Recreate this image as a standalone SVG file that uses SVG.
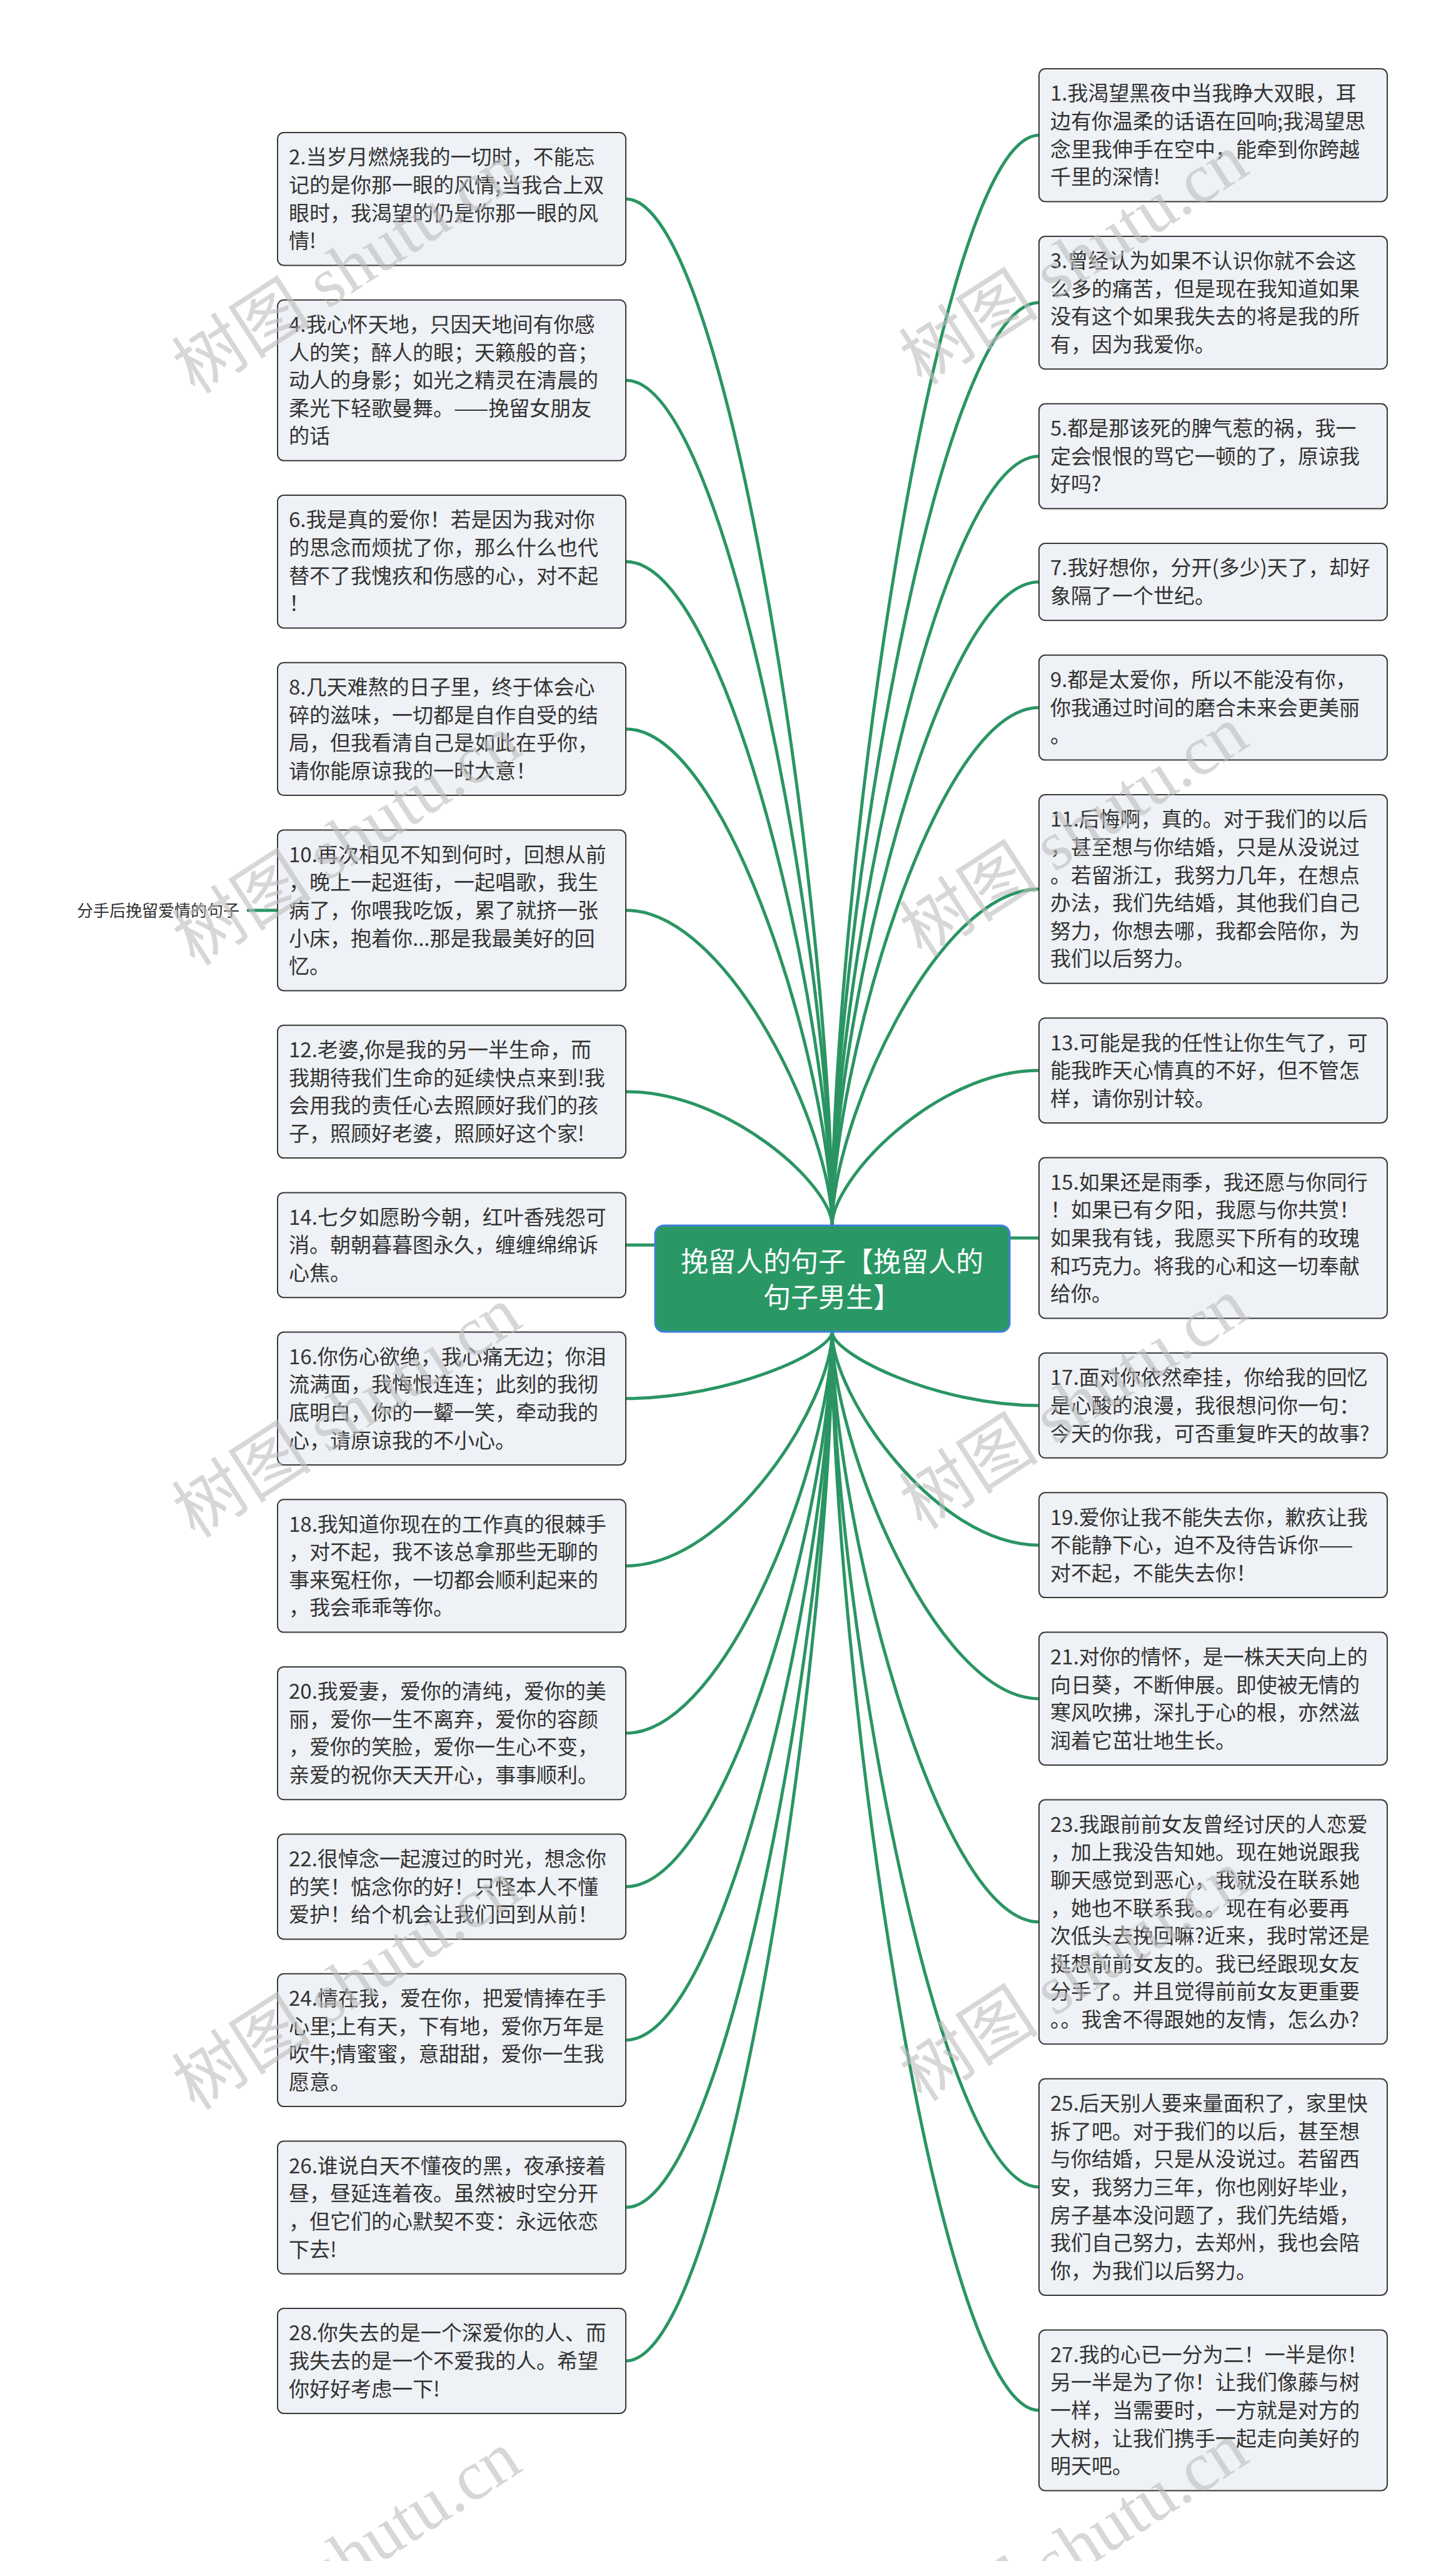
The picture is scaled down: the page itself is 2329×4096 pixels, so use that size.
<svg xmlns="http://www.w3.org/2000/svg" width="2329" height="4096" viewBox="0 0 2329 4096">
<style>
.box{fill:#eef1f5;stroke:#383838;stroke-width:2}
.t{font-family:"Noto Sans CJK SC","Noto Sans",sans-serif;font-size:33px;fill:#333333}
.c{fill:none;stroke:#2a9563;stroke-width:5;stroke-linecap:round}
.root{fill:#2a9865;stroke:#3d7fd9;stroke-width:3}
.rt{font-family:"Noto Sans CJK SC","Noto Sans",sans-serif;font-size:44px;fill:#ffffff;text-anchor:middle}
.lbl{font-family:"Noto Sans CJK SC","Noto Sans",sans-serif;font-size:26px;fill:#333333}
.wm{font-family:"Liberation Serif","Noto Sans CJK SC",serif;font-size:112px;fill:#bdbdbd;opacity:0.6}
</style>
<rect width="2329" height="4096" fill="#ffffff"/>
<g id="connectors">
<path class="c" d="M1001 318.2 C1166 318.2 1331 1467.5 1331 1960"/>
<path class="c" d="M1001 608.2 C1166 608.2 1331 1554.5 1331 1960"/>
<path class="c" d="M1001 898.2 C1166 898.2 1331 1641.5 1331 1960"/>
<path class="c" d="M1001 1165.9 C1166 1165.9 1331 1721.8 1331 1960"/>
<path class="c" d="M1001 1455.9 C1166 1455.9 1331 1808.8 1331 1960"/>
<path class="c" d="M1001 1745.9 C1166 1745.9 1331 1895.8 1331 1960"/>
<path class="c" d="M1001 1991.3 H1048"/>
<path class="c" d="M1001 2236.7 C1166 2236.7 1331 2162 1331 2130"/>
<path class="c" d="M1001 2504.4 C1166 2504.4 1331 2242.3 1331 2130"/>
<path class="c" d="M1001 2772.1 C1166 2772.1 1331 2322.6 1331 2130"/>
<path class="c" d="M1001 3017.5 C1166 3017.5 1331 2396.3 1331 2130"/>
<path class="c" d="M1001 3262.9 C1166 3262.9 1331 2469.9 1331 2130"/>
<path class="c" d="M1001 3530.6 C1166 3530.6 1331 2550.2 1331 2130"/>
<path class="c" d="M1001 3776 C1166 3776 1331 2623.8 1331 2130"/>
<path class="c" d="M1662 216.2 C1496.5 216.2 1331 1436.9 1331 1960"/>
<path class="c" d="M1662 484.1 C1496.5 484.1 1331 1517.2 1331 1960"/>
<path class="c" d="M1662 729.7 C1496.5 729.7 1331 1590.9 1331 1960"/>
<path class="c" d="M1662 930.7 C1496.5 930.7 1331 1651.2 1331 1960"/>
<path class="c" d="M1662 1131.7 C1496.5 1131.7 1331 1711.5 1331 1960"/>
<path class="c" d="M1662 1421.9 C1496.5 1421.9 1331 1798.6 1331 1960"/>
<path class="c" d="M1662 1712.1 C1496.5 1712.1 1331 1885.6 1331 1960"/>
<path class="c" d="M1615 1980 H1662"/>
<path class="c" d="M1662 2247.9 C1496.5 2247.9 1331 2165.4 1331 2130"/>
<path class="c" d="M1662 2471.2 C1496.5 2471.2 1331 2232.4 1331 2130"/>
<path class="c" d="M1662 2716.8 C1496.5 2716.8 1331 2306 1331 2130"/>
<path class="c" d="M1662 3073.9 C1496.5 3073.9 1331 2413.2 1331 2130"/>
<path class="c" d="M1662 3497.9 C1496.5 3497.9 1331 2540.4 1331 2130"/>
<path class="c" d="M1662 3855 C1496.5 3855 1331 2647.5 1331 2130"/>
<path class="c" d="M397 1456 H444"/>
</g>
<g id="root">
<rect class="root" x="1048" y="1960" width="567" height="170" rx="14"/>
<text class="rt" x="1331" y="2034">挽留人的句子【挽留人的</text>
<text class="rt" x="1331" y="2091">句子男生】</text>
</g>
<g id="label">
<text class="lbl" x="123" y="1466">分手后挽留爱情的句子</text>
</g>
<g id="n2"><rect class="box" x="444" y="212" width="557" height="212.4" rx="10"/>
<text class="t" x="462" y="263.3"><tspan x="462">2.当岁月燃烧我的一切时，不能忘</tspan><tspan x="462" dy="44.6">记的是你那一眼的风情;当我合上双</tspan><tspan x="462" dy="44.6">眼时，我渴望的仍是你那一眼的风</tspan><tspan x="462" dy="44.6">情!</tspan></text></g>
<g id="n4"><rect class="box" x="444" y="479.7" width="557" height="257" rx="10"/>
<text class="t" x="462" y="531"><tspan x="462">4.我心怀天地，只因天地间有你感</tspan><tspan x="462" dy="44.6">人的笑；醉人的眼；天籁般的音；</tspan><tspan x="462" dy="44.6">动人的身影；如光之精灵在清晨的</tspan><tspan x="462" dy="44.6">柔光下轻歌曼舞。——挽留女朋友</tspan><tspan x="462" dy="44.6">的话</tspan></text></g>
<g id="n6"><rect class="box" x="444" y="792" width="557" height="212.4" rx="10"/>
<text class="t" x="462" y="843.3"><tspan x="462">6.我是真的爱你！若是因为我对你</tspan><tspan x="462" dy="44.6">的思念而烦扰了你，那么什么也代</tspan><tspan x="462" dy="44.6">替不了我愧疚和伤感的心，对不起</tspan><tspan x="462" dy="44.6">！</tspan></text></g>
<g id="n8"><rect class="box" x="444" y="1059.7" width="557" height="212.4" rx="10"/>
<text class="t" x="462" y="1111"><tspan x="462">8.几天难熬的日子里，终于体会心</tspan><tspan x="462" dy="44.6">碎的滋味，一切都是自作自受的结</tspan><tspan x="462" dy="44.6">局，但我看清自己是如此在乎你，</tspan><tspan x="462" dy="44.6">请你能原谅我的一时大意！</tspan></text></g>
<g id="n10"><rect class="box" x="444" y="1327.4" width="557" height="257" rx="10"/>
<text class="t" x="462" y="1378.7"><tspan x="462">10.再次相见不知到何时，回想从前</tspan><tspan x="462" dy="44.6">，晚上一起逛街，一起唱歌，我生</tspan><tspan x="462" dy="44.6">病了，你喂我吃饭，累了就挤一张</tspan><tspan x="462" dy="44.6">小床，抱着你...那是我最美好的回</tspan><tspan x="462" dy="44.6">忆。</tspan></text></g>
<g id="n12"><rect class="box" x="444" y="1639.7" width="557" height="212.4" rx="10"/>
<text class="t" x="462" y="1691"><tspan x="462">12.老婆,你是我的另一半生命，而</tspan><tspan x="462" dy="44.6">我期待我们生命的延续快点来到!我</tspan><tspan x="462" dy="44.6">会用我的责任心去照顾好我们的孩</tspan><tspan x="462" dy="44.6">子，照顾好老婆，照顾好这个家!</tspan></text></g>
<g id="n14"><rect class="box" x="444" y="1907.4" width="557" height="167.8" rx="10"/>
<text class="t" x="462" y="1958.7"><tspan x="462">14.七夕如愿盼今朝，红叶香残怨可</tspan><tspan x="462" dy="44.6">消。朝朝暮暮图永久，缠缠绵绵诉</tspan><tspan x="462" dy="44.6">心焦。</tspan></text></g>
<g id="n16"><rect class="box" x="444" y="2130.5" width="557" height="212.4" rx="10"/>
<text class="t" x="462" y="2181.8"><tspan x="462">16.你伤心欲绝，我心痛无边；你泪</tspan><tspan x="462" dy="44.6">流满面，我悔恨连连；此刻的我彻</tspan><tspan x="462" dy="44.6">底明白，你的一颦一笑，牵动我的</tspan><tspan x="462" dy="44.6">心，请原谅我的不小心。</tspan></text></g>
<g id="n18"><rect class="box" x="444" y="2398.2" width="557" height="212.4" rx="10"/>
<text class="t" x="462" y="2449.5"><tspan x="462">18.我知道你现在的工作真的很棘手</tspan><tspan x="462" dy="44.6">，对不起，我不该总拿那些无聊的</tspan><tspan x="462" dy="44.6">事来冤枉你，一切都会顺利起来的</tspan><tspan x="462" dy="44.6">，我会乖乖等你。</tspan></text></g>
<g id="n20"><rect class="box" x="444" y="2665.9" width="557" height="212.4" rx="10"/>
<text class="t" x="462" y="2717.2"><tspan x="462">20.我爱妻，爱你的清纯，爱你的美</tspan><tspan x="462" dy="44.6">丽，爱你一生不离弃，爱你的容颜</tspan><tspan x="462" dy="44.6">，爱你的笑脸，爱你一生心不变，</tspan><tspan x="462" dy="44.6">亲爱的祝你天天开心，事事顺利。</tspan></text></g>
<g id="n22"><rect class="box" x="444" y="2933.6" width="557" height="167.8" rx="10"/>
<text class="t" x="462" y="2984.9"><tspan x="462">22.很悼念一起渡过的时光，想念你</tspan><tspan x="462" dy="44.6">的笑！惦念你的好！只怪本人不懂</tspan><tspan x="462" dy="44.6">爱护！给个机会让我们回到从前！</tspan></text></g>
<g id="n24"><rect class="box" x="444" y="3156.7" width="557" height="212.4" rx="10"/>
<text class="t" x="462" y="3208"><tspan x="462">24.情在我，爱在你，把爱情捧在手</tspan><tspan x="462" dy="44.6">心里;上有天，下有地，爱你万年是</tspan><tspan x="462" dy="44.6">吹牛;情蜜蜜，意甜甜，爱你一生我</tspan><tspan x="462" dy="44.6">愿意。</tspan></text></g>
<g id="n26"><rect class="box" x="444" y="3424.4" width="557" height="212.4" rx="10"/>
<text class="t" x="462" y="3475.7"><tspan x="462">26.谁说白天不懂夜的黑，夜承接着</tspan><tspan x="462" dy="44.6">昼，昼延连着夜。虽然被时空分开</tspan><tspan x="462" dy="44.6">，但它们的心默契不变：永远依恋</tspan><tspan x="462" dy="44.6">下去!</tspan></text></g>
<g id="n28"><rect class="box" x="444" y="3692.1" width="557" height="167.8" rx="10"/>
<text class="t" x="462" y="3743.4"><tspan x="462">28.你失去的是一个深爱你的人、而</tspan><tspan x="462" dy="44.6">我失去的是一个不爱我的人。希望</tspan><tspan x="462" dy="44.6">你好好考虑一下!</tspan></text></g>
<g id="n1"><rect class="box" x="1662" y="110" width="557" height="212.4" rx="10"/>
<text class="t" x="1680" y="161.3"><tspan x="1680">1.我渴望黑夜中当我睁大双眼，耳</tspan><tspan x="1680" dy="44.6">边有你温柔的话语在回响;我渴望思</tspan><tspan x="1680" dy="44.6">念里我伸手在空中，能牵到你跨越</tspan><tspan x="1680" dy="44.6">千里的深情!</tspan></text></g>
<g id="n3"><rect class="box" x="1662" y="377.9" width="557" height="212.4" rx="10"/>
<text class="t" x="1680" y="429.2"><tspan x="1680">3.曾经认为如果不认识你就不会这</tspan><tspan x="1680" dy="44.6">么多的痛苦，但是现在我知道如果</tspan><tspan x="1680" dy="44.6">没有这个如果我失去的将是我的所</tspan><tspan x="1680" dy="44.6">有，因为我爱你。</tspan></text></g>
<g id="n5"><rect class="box" x="1662" y="645.8" width="557" height="167.8" rx="10"/>
<text class="t" x="1680" y="697.1"><tspan x="1680">5.都是那该死的脾气惹的祸，我一</tspan><tspan x="1680" dy="44.6">定会恨恨的骂它一顿的了，原谅我</tspan><tspan x="1680" dy="44.6">好吗?</tspan></text></g>
<g id="n7"><rect class="box" x="1662" y="869.1" width="557" height="123.2" rx="10"/>
<text class="t" x="1680" y="920.4"><tspan x="1680">7.我好想你，分开(多少)天了，却好</tspan><tspan x="1680" dy="44.6">象隔了一个世纪。</tspan></text></g>
<g id="n9"><rect class="box" x="1662" y="1047.8" width="557" height="167.8" rx="10"/>
<text class="t" x="1680" y="1099.1"><tspan x="1680">9.都是太爱你，所以不能没有你，</tspan><tspan x="1680" dy="44.6">你我通过时间的磨合未来会更美丽</tspan><tspan x="1680" dy="44.6">。</tspan></text></g>
<g id="n11"><rect class="box" x="1662" y="1271.1" width="557" height="301.6" rx="10"/>
<text class="t" x="1680" y="1322.4"><tspan x="1680">11.后悔啊，真的。对于我们的以后</tspan><tspan x="1680" dy="44.6">，甚至想与你结婚，只是从没说过</tspan><tspan x="1680" dy="44.6">。若留浙江，我努力几年，在想点</tspan><tspan x="1680" dy="44.6">办法，我们先结婚，其他我们自己</tspan><tspan x="1680" dy="44.6">努力，你想去哪，我都会陪你，为</tspan><tspan x="1680" dy="44.6">我们以后努力。</tspan></text></g>
<g id="n13"><rect class="box" x="1662" y="1628.2" width="557" height="167.8" rx="10"/>
<text class="t" x="1680" y="1679.5"><tspan x="1680">13.可能是我的任性让你生气了，可</tspan><tspan x="1680" dy="44.6">能我昨天心情真的不好，但不管怎</tspan><tspan x="1680" dy="44.6">样，请你别计较。</tspan></text></g>
<g id="n15"><rect class="box" x="1662" y="1851.5" width="557" height="257" rx="10"/>
<text class="t" x="1680" y="1902.8"><tspan x="1680">15.如果还是雨季，我还愿与你同行</tspan><tspan x="1680" dy="44.6">！如果已有夕阳，我愿与你共赏！</tspan><tspan x="1680" dy="44.6">如果我有钱，我愿买下所有的玫瑰</tspan><tspan x="1680" dy="44.6">和巧克力。将我的心和这一切奉献</tspan><tspan x="1680" dy="44.6">给你。</tspan></text></g>
<g id="n17"><rect class="box" x="1662" y="2164" width="557" height="167.8" rx="10"/>
<text class="t" x="1680" y="2215.3"><tspan x="1680">17.面对你依然牵挂，你给我的回忆</tspan><tspan x="1680" dy="44.6">是心酸的浪漫，我很想问你一句：</tspan><tspan x="1680" dy="44.6">今天的你我，可否重复昨天的故事?</tspan></text></g>
<g id="n19"><rect class="box" x="1662" y="2387.3" width="557" height="167.8" rx="10"/>
<text class="t" x="1680" y="2438.6"><tspan x="1680">19.爱你让我不能失去你，歉疚让我</tspan><tspan x="1680" dy="44.6">不能静下心，迫不及待告诉你——</tspan><tspan x="1680" dy="44.6">对不起，不能失去你！</tspan></text></g>
<g id="n21"><rect class="box" x="1662" y="2610.6" width="557" height="212.4" rx="10"/>
<text class="t" x="1680" y="2661.9"><tspan x="1680">21.对你的情怀，是一株天天向上的</tspan><tspan x="1680" dy="44.6">向日葵，不断伸展。即使被无情的</tspan><tspan x="1680" dy="44.6">寒风吹拂，深扎于心的根，亦然滋</tspan><tspan x="1680" dy="44.6">润着它茁壮地生长。</tspan></text></g>
<g id="n23"><rect class="box" x="1662" y="2878.5" width="557" height="390.8" rx="10"/>
<text class="t" x="1680" y="2929.8"><tspan x="1680">23.我跟前前女友曾经讨厌的人恋爱</tspan><tspan x="1680" dy="44.6">，加上我没告知她。现在她说跟我</tspan><tspan x="1680" dy="44.6">聊天感觉到恶心，我就没在联系她</tspan><tspan x="1680" dy="44.6">，她也不联系我。。现在有必要再</tspan><tspan x="1680" dy="44.6">次低头去挽回嘛?近来，我时常还是</tspan><tspan x="1680" dy="44.6">挺想前前女友的。我已经跟现女友</tspan><tspan x="1680" dy="44.6">分手了。并且觉得前前女友更重要</tspan><tspan x="1680" dy="44.6">。。我舍不得跟她的友情，怎么办?</tspan></text></g>
<g id="n25"><rect class="box" x="1662" y="3324.8" width="557" height="346.2" rx="10"/>
<text class="t" x="1680" y="3376.1"><tspan x="1680">25.后天别人要来量面积了，家里快</tspan><tspan x="1680" dy="44.6">拆了吧。对于我们的以后，甚至想</tspan><tspan x="1680" dy="44.6">与你结婚，只是从没说过。若留西</tspan><tspan x="1680" dy="44.6">安，我努力三年，你也刚好毕业，</tspan><tspan x="1680" dy="44.6">房子基本没问题了，我们先结婚，</tspan><tspan x="1680" dy="44.6">我们自己努力，去郑州，我也会陪</tspan><tspan x="1680" dy="44.6">你，为我们以后努力。</tspan></text></g>
<g id="n27"><rect class="box" x="1662" y="3726.5" width="557" height="257" rx="10"/>
<text class="t" x="1680" y="3777.8"><tspan x="1680">27.我的心已一分为二！一半是你！</tspan><tspan x="1680" dy="44.6">另一半是为了你！让我们像藤与树</tspan><tspan x="1680" dy="44.6">一样，当需要时，一方就是对方的</tspan><tspan x="1680" dy="44.6">大树，让我们携手一起走向美好的</tspan><tspan x="1680" dy="44.6">明天吧。</tspan></text></g>
<g id="watermarks">
<text class="wm" transform="translate(312 632) rotate(-33)">树图 shutu.cn</text>
<text class="wm" transform="translate(1475 618) rotate(-33)">树图 shutu.cn</text>
<text class="wm" transform="translate(312 1547) rotate(-33)">树图 shutu.cn</text>
<text class="wm" transform="translate(1475 1533) rotate(-33)">树图 shutu.cn</text>
<text class="wm" transform="translate(312 2462) rotate(-33)">树图 shutu.cn</text>
<text class="wm" transform="translate(1475 2448) rotate(-33)">树图 shutu.cn</text>
<text class="wm" transform="translate(312 3377) rotate(-33)">树图 shutu.cn</text>
<text class="wm" transform="translate(1475 3363) rotate(-33)">树图 shutu.cn</text>
<text class="wm" transform="translate(312 4292) rotate(-33)">树图 shutu.cn</text>
<text class="wm" transform="translate(1475 4278) rotate(-33)">树图 shutu.cn</text>
</g>
</svg>
